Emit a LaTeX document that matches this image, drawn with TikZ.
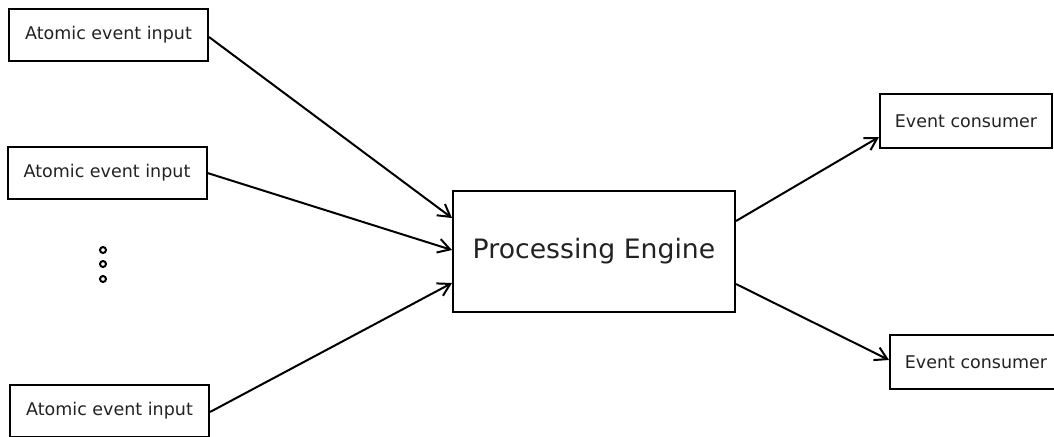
\documentclass[tikz,border=0pt]{standalone}
\usepackage{fontspec}
\setmainfont{DejaVu Sans}
\usepackage{tikz}
\usetikzlibrary{positioning,arrows.meta,calc}
\definecolor{inktext}{RGB}{34,34,34}

\begin{document}
\begin{tikzpicture}[x=0.5pt, y=-0.5pt, line width=1pt,
    evbox/.style={draw, rectangle, inner sep=0pt, text=inktext,
      font=\fontsize{8.75pt}{10pt}\selectfont},
    inbox/.style={evbox, minimum width=99.5pt, minimum height=26pt},
    outbox/.style={evbox, minimum width=86pt, minimum height=27pt},
    engbox/.style={evbox, minimum width=141pt, minimum height=60.5pt,
      font=\fontsize{13.35pt}{15pt}\selectfont},
    flow/.style={-{Straight Barb[length=6pt,width=7pt]}}]
  \useasboundingbox (0,0) rectangle (1054,436);

  % Inputs on the left
  \node[inbox] (in1) at (108.5,35) {Atomic event input};
  \node[inbox] (in2) at (107,173) {Atomic event input};
  \node[inbox] (in3) at (109.5,411) {Atomic event input};

  % Ellipsis between the inputs
  \foreach \y in {250,264,279}
    \draw (103,\y) circle (3);

  % Engine in the middle
  \node[engbox] (engine) at (594,251.5) {Processing Engine};

  % Consumers on the right
  \node[outbox] (out1) at (966,121) {Event consumer};
  \node[outbox] (out2) at (976,362) {Event consumer};

  % Incoming events
  \draw[flow] ([yshift=-1pt]in1.east) -- ([yshift=16.75pt]engine.west);
  \draw[flow] (in2.east) -- ([yshift=0.75pt]engine.west);
  \draw[flow] ([yshift=-0.5pt]in3.east) -- ([yshift=-15.75pt]engine.west);

  % Outgoing events
  \draw[flow] ([yshift=15.25pt]engine.east) -- ([yshift=-8pt]out1.west);
  \draw[flow] ([yshift=-16.25pt]engine.east) -- ([yshift=1pt]out2.west);
\end{tikzpicture}
\end{document}
